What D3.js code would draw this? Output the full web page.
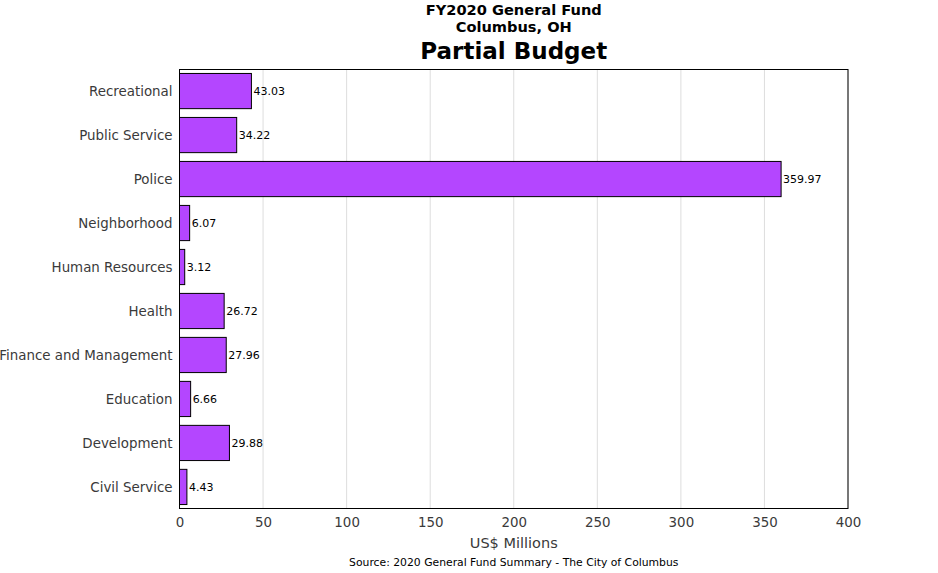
<!DOCTYPE html>
<html>
<head>
<meta charset="utf-8">
<script src="https://cdn.jsdelivr.net/npm/d3@7"></script>
<style>
  body { margin: 0; background: #fff; }
  text { font-family: "DejaVu Sans", sans-serif; }
</style>
</head>
<body>
<svg id="chart" width="938" height="573"></svg>
<script>
// categories listed bottom to top, like the original barh call
var categories = ['Civil Service', 'Development', 'Education', 'Finance and Management',
  'Health', 'Human Resources', 'Neighborhood', 'Police', 'Public Service', 'Recreational'];
var budget = [4.43, 29.88, 6.66, 27.96, 26.72, 3.12, 6.07, 359.97, 34.22, 43.03];
var xTicks = [0, 50, 100, 150, 200, 250, 300, 350, 400];

var svg = d3.select('#chart');
// note: can't call these top/left, window.top is read-only
var plotL = 179.5, plotR = 848, plotT = 69.5, plotB = 508.5;

var x = d3.scaleLinear().domain([0, 400]).range([plotL, plotR]);
// bars are 0.8 tall
var y = d3.scaleLinear().domain([-0.49, 9.49]).range([plotB, plotT]);

// grid
svg.append('g').selectAll('line')
  .data(xTicks).enter().append('line')
  .attr('x1', function(d) { return x(d); })
  .attr('x2', function(d) { return x(d); })
  .attr('y1', plotT).attr('y2', plotB)
  .attr('stroke', '#dddddd').attr('stroke-width', 1);

// bars
svg.append('g').selectAll('rect')
  .data(budget).enter().append('rect')
  .attr('x', x(0))
  .attr('y', function(d, i) { return y(i + 0.4); })
  .attr('width', function(d) { return x(d) - x(0); })
  .attr('height', function(d, i) { return y(i - 0.4) - y(i + 0.4); })
  .attr('fill', '#b446ff')
  .attr('stroke', '#000').attr('stroke-width', 1);

// value labels
svg.append('g').selectAll('text')
  .data(budget).enter().append('text')
  .attr('x', function(d) { return x(d) + 2; })
  .attr('y', function(d, i) { return y(i); })
  .attr('dy', '0.35em')
  .attr('font-size', '11px')
  .attr('fill', '#000')
  .text(function(d) { return d.toFixed(2); });

// frame
svg.append('rect')
  .attr('x', plotL).attr('y', plotT)
  .attr('width', plotR - plotL).attr('height', plotB - plotT)
  .attr('fill', 'none').attr('stroke', '#000').attr('stroke-width', 1);

// x axis (no tick marks)
var xAxis = d3.axisBottom(x).tickValues(xTicks).tickSize(0).tickPadding(9);
var gx = svg.append('g').attr('transform', 'translate(0,' + plotB + ')').call(xAxis);
gx.select('.domain').remove();
gx.selectAll('text').attr('font-size', '13.4px').attr('fill', '#3a3a3a')
  .attr('font-family', '"DejaVu Sans", sans-serif');

// y axis
var yAxis = d3.axisLeft(y).tickValues(d3.range(categories.length))
  .tickFormat(function(i) { return categories[i]; }).tickSize(0).tickPadding(7);
var gy = svg.append('g').attr('transform', 'translate(' + plotL + ',0)').call(yAxis);
gy.select('.domain').remove();
gy.selectAll('text').attr('font-size', '13.4px').attr('fill', '#3a3a3a')
  .attr('font-family', '"DejaVu Sans", sans-serif');

// titles
var cx = (plotL + plotR) / 2;
svg.append('text').attr('x', cx).attr('y', 15).attr('text-anchor', 'middle')
  .attr('font-size', '14.6px').attr('font-weight', 'bold').text('FY2020 General Fund');
svg.append('text').attr('x', cx).attr('y', 32).attr('text-anchor', 'middle')
  .attr('font-size', '14.6px').attr('font-weight', 'bold').text('Columbus, OH');
svg.append('text').attr('x', cx).attr('y', 59).attr('text-anchor', 'middle')
  .attr('font-size', '23px').attr('font-weight', 'bold').text('Partial Budget');

svg.append('text').attr('x', cx).attr('y', 548).attr('text-anchor', 'middle')
  .attr('font-size', '14.5px').attr('fill', '#3a3a3a').text('US$ Millions');
svg.append('text').attr('x', cx).attr('y', 566).attr('text-anchor', 'middle')
  .attr('font-size', '10.8px').attr('fill', '#000')
  .text('Source: 2020 General Fund Summary - The City of Columbus');
</script>
</body>
</html>
